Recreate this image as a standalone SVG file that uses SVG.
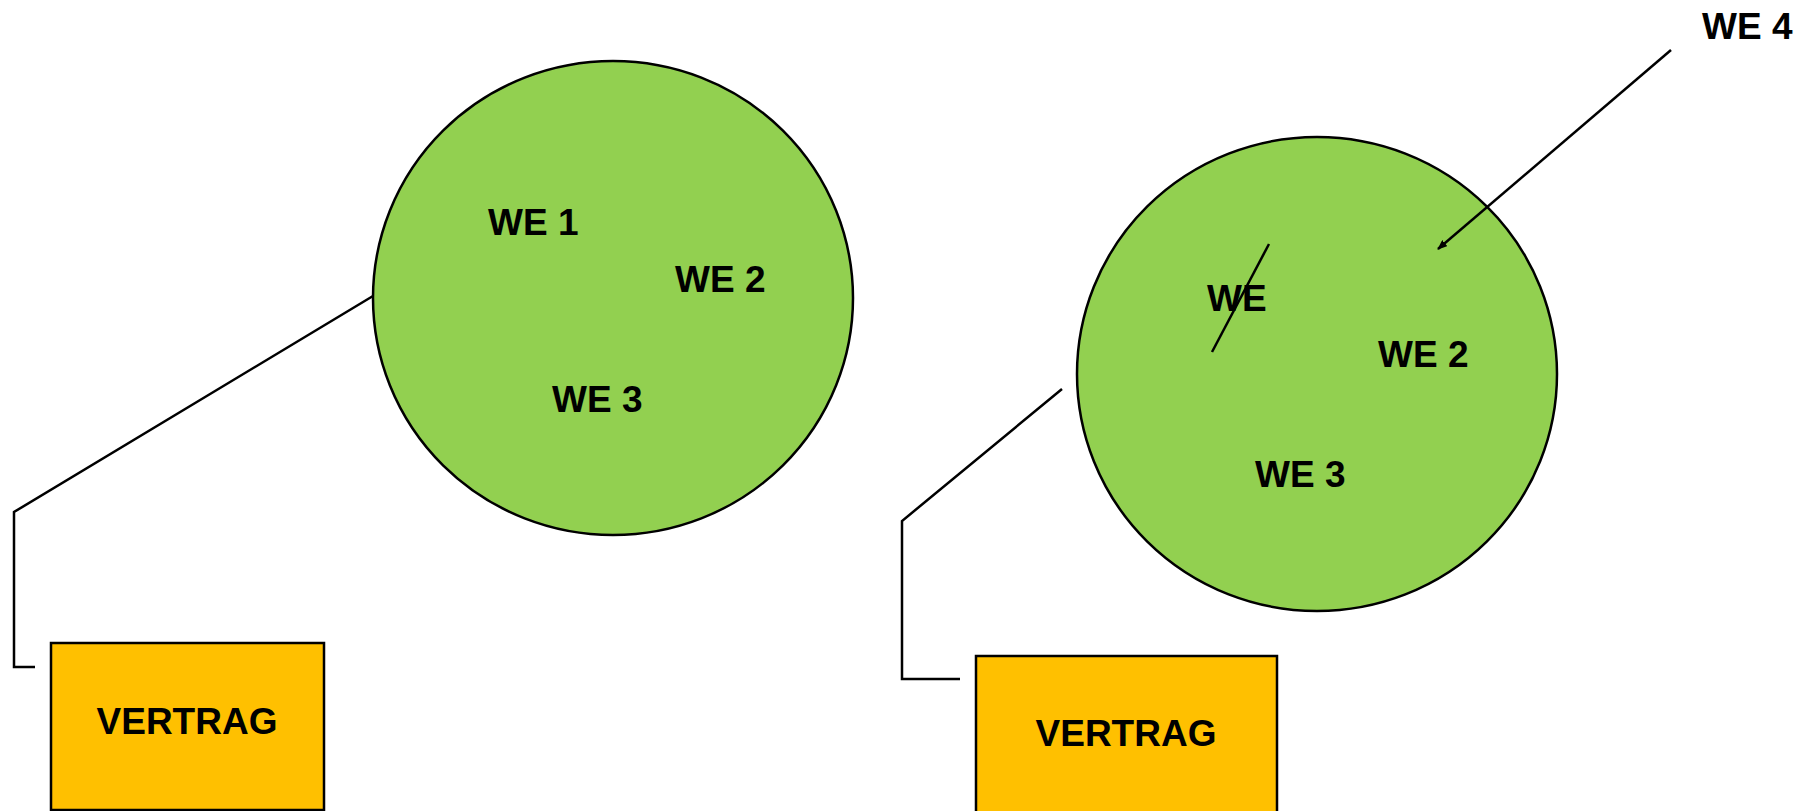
<svg xmlns="http://www.w3.org/2000/svg" width="1809" height="811" viewBox="0 0 1809 811">
<style>
.c{fill:#92d050;stroke:#000;stroke-width:2.5}
.b{fill:#ffc000;stroke:#000;stroke-width:2.5}
.t{font-family:"Liberation Sans",Arial,sans-serif;font-weight:bold;font-size:37px;fill:#000}
.l{fill:none;stroke:#000;stroke-width:2.5}
</style>
<defs>
<marker id="ah" markerWidth="10" markerHeight="8" refX="9" refY="4" orient="auto" markerUnits="userSpaceOnUse">
<path d="M0,0 L10,4 L0,8 Z" fill="#000"/>
</marker>
</defs>
<rect width="1809" height="811" fill="#fff"/>
<g id="circle-left">
<ellipse class="c" cx="613" cy="298" rx="240" ry="237"/>
<text class="t" x="488" y="235">WE 1</text>
<text class="t" x="675" y="292">WE 2</text>
<text class="t" x="552" y="412">WE 3</text>
</g>
<g id="circle-right">
<ellipse class="c" cx="1317" cy="374" rx="240" ry="237"/>
<text class="t" x="1207" y="311">WE</text>
<line class="l" x1="1269" y1="244" x2="1212" y2="352"/>
<text class="t" x="1378" y="367">WE 2</text>
<text class="t" x="1255" y="487">WE 3</text>
</g>
<g id="vertrag-left">
<rect class="b" x="51" y="643" width="273" height="167"/>
<text class="t" x="187" y="734" text-anchor="middle">VERTRAG</text>
</g>
<g id="vertrag-right">
<rect class="b" x="976" y="656" width="301" height="160"/>
<text class="t" x="1126" y="746" text-anchor="middle">VERTRAG</text>
</g>
<g id="we4">
<text class="t" x="1702" y="39">WE 4</text>
</g>
<g id="connectors">
<polyline class="l" points="373,296 14,512 14,667 35,667"/>
<polyline class="l" points="1062,389 902,521 902,679 960,679"/>
<line class="l" x1="1671" y1="50" x2="1438" y2="249" marker-end="url(#ah)"/>
</g>
</svg>
